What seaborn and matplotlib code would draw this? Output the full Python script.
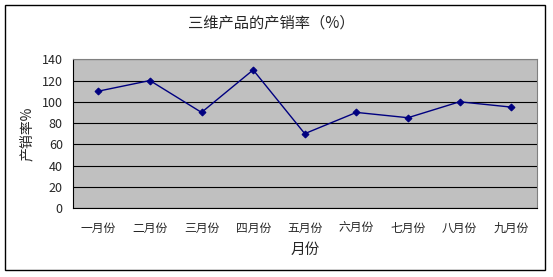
import matplotlib
matplotlib.use("Agg")
import matplotlib.pyplot as plt
import seaborn as sns
import pandas as pd
import numpy as np
from matplotlib.patches import Rectangle

months = ["一月份", "二月份", "三月份", "四月份", "五月份", "六月份", "七月份", "八月份", "九月份"]
rates = [110, 120, 90, 130, 70, 90, 85, 100, 95]
yticks = [0, 20, 40, 60, 80, 100, 120, 140]

sns.set_style("white")
plt.rcParams['font.family'] = ['Noto Sans CJK SC', 'DejaVu Sans']

df = pd.DataFrame({"月份": months, "产销率": rates})

W, H = 553, 277
fig = plt.figure(figsize=(W / 100, H / 100), dpi=100)
ax = fig.add_axes([72.5 / W, 1 - 208 / H, (537 - 72.5) / W, (208 - 59.3) / H])

sns.lineplot(data=df, x="月份", y="产销率", ax=ax, color="#000080", linewidth=1,
             marker="D", markersize=3.5, markeredgecolor="#000080", sort=False)

ax.set_facecolor("#C0C0C0")
ax.set_xlim(-0.5, len(months) - 0.5)
ax.set_ylim(0, 140)
ax.set_yticks(yticks)
ax.set_yticklabels([str(v) for v in yticks], fontsize=9)
ax.set_xticks(range(len(months)))
ax.set_xticklabels(months, fontsize=8.5)
ax.set_xticks(np.arange(-0.5, len(months), 1), minor=True)
ax.tick_params(axis="x", which="major", length=0, pad=10)
ax.tick_params(axis="x", which="minor", length=4, color="black", width=0.8, direction="out")
ax.tick_params(axis="y", length=4, color="black", width=0.8, direction="out", pad=3)
ax.yaxis.grid(True, color="black", linewidth=0.8)
ax.set_axisbelow(True)
for s in ax.spines.values():
    s.set_color("black")
    s.set_linewidth(0.8)
ax.spines["top"].set_color("#808080")
ax.spines["right"].set_color("#808080")

ax.set_xlabel("月份", fontsize=10.5, labelpad=6)
ax.set_ylabel("产销率%", fontsize=10, labelpad=6)
fig.text(271 / W, 1 - 23 / H, "三维产品的产销率（%）", ha="center", va="center", fontsize=11)

fig.patches.append(Rectangle((5 / W, 1 - 270 / H), (545 - 5) / W, (270 - 5) / H,
                             transform=fig.transFigure, fill=False, edgecolor="black", linewidth=1))

fig.savefig("out.png", dpi=100)
